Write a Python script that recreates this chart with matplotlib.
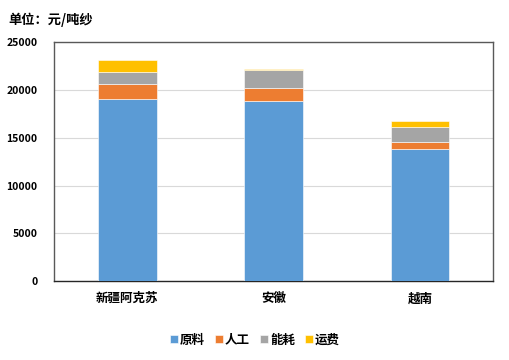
import matplotlib
matplotlib.use("Agg")
import matplotlib.pyplot as plt
import numpy as np

plt.rcParams["font.family"] = ["Noto Sans CJK SC", "DejaVu Sans"]

regions = ["新疆阿克苏", "安徽", "越南"]
series = ["原料", "人工", "能耗", "运费"]
raw = [19000, 18800, 13800]
labor = [1600, 1400, 800]
energy = [1300, 1900, 1500]
freight = [1200, 100, 600]
colors = ["#5B9BD5", "#ED7D31", "#A5A5A5", "#FFC000"]

fig = plt.figure(figsize=(5.1, 3.6), dpi=100)
ax = fig.add_axes([0.106, 0.219, 0.861, 0.664])

x = np.arange(len(regions))
bottom = np.zeros(len(regions))
for vals, name, c in zip([raw, labor, energy, freight], series, colors):
    ax.bar(x, vals, 0.4, bottom=bottom, color=c, label=name,
           edgecolor="white", linewidth=0.4, zorder=3)
    bottom += np.array(vals)

ax.set_xlim(-0.5, 2.5)
ax.set_ylim(0, 25000)
ax.set_yticks(range(0, 25001, 5000))
ax.set_xticks(x)
ax.set_xticklabels(regions, fontsize=9, fontweight="bold")
for t in ax.get_yticklabels():
    t.set_fontsize(7.5)
    t.set_fontweight("bold")
ax.tick_params(length=0)
ax.tick_params(axis="x", pad=8)
ax.tick_params(axis="y", pad=12)
ax.yaxis.grid(True, color="#d9d9d9", linewidth=0.8, zorder=0)
for s in ax.spines.values():
    s.set_color("#595959")
    s.set_linewidth(1.0)
ax.spines["bottom"].set_color("#262626")

fig.text(0.016, 0.945, "单位：元/吨纱", fontsize=9.5, fontweight="bold", va="center")

fig.legend(loc="center", bbox_to_anchor=(0.5, 0.055), ncol=4, frameon=False,
           prop={"size": 9, "weight": "bold"}, handlelength=0.6, handleheight=0.6,
           handletextpad=0.2, columnspacing=0.8)

fig.savefig("out.png", dpi=100)
